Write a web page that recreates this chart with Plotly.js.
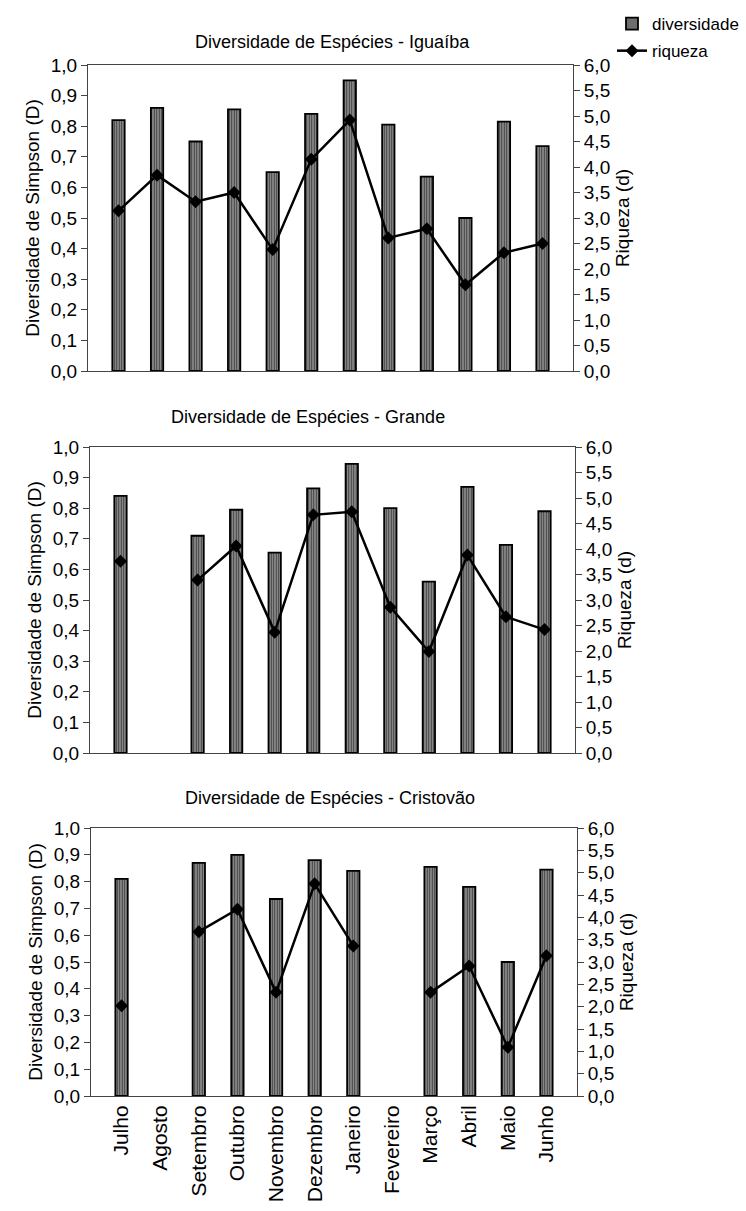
<!DOCTYPE html>
<html>
<head>
<meta charset="utf-8">
<script src="https://cdn.plot.ly/plotly-3.0.1.min.js"></script>
<style>html,body{margin:0;padding:0;background:#fff;}#chart{width:746px;height:1211px;}</style>
</head>
<body>
<div id="chart"></div>
<script>
const months = ['Julho','Agosto','Setembro','Outubro','Novembro','Dezembro','Janeiro','Fevereiro','Março','Abril','Maio','Junho'];
const divIguaiba = [0.82,0.86,0.75,0.855,0.65,0.84,0.95,0.805,0.635,0.50,0.815,0.735];
const riqIguaiba = [3.14,3.84,3.32,3.50,2.38,4.15,4.92,2.61,2.79,1.69,2.32,2.50];
const divGrande = [0.84,null,0.71,0.795,0.655,0.865,0.945,0.80,0.56,0.87,0.68,0.79];
const riqGrande = [3.76,null,3.39,4.06,2.37,4.67,4.73,2.86,1.99,3.88,2.67,2.42];
const divCristovao = [0.81,null,0.87,0.90,0.735,0.88,0.84,null,0.855,0.78,0.50,0.845];
const riqCristovao = [2.02,null,3.68,4.18,2.32,4.75,3.36,null,2.32,2.91,1.09,3.14];
const panelTitles = ['Diversidade de Espécies - Iguaíba','Diversidade de Espécies - Grande','Diversidade de Espécies - Cristovão'];
const leftTitle = 'Diversidade de Simpson (D)';
const rightTitle = 'Riqueza (d)';
const seriesNames = ['diversidade','riqueza'];

const W = 746, H = 1211;
const FONT = 'Liberation Sans, Arial, sans-serif';
const panels = [
  {div: divIguaiba, riq: riqIguaiba, px: [88,573], py: [65,371], tx: 332, ty: 42, showX: false},
  {div: divGrande, riq: riqGrande, px: [90,575], py: [447,753], tx: 308, ty: 417, showX: false},
  {div: divCristovao, riq: riqCristovao, px: [91,577], py: [828,1096], tx: 330, ty: 798, showX: true}
];

const data = [];
const layout = {
  width: W, height: H,
  margin: {l:0, r:0, t:0, b:0},
  paper_bgcolor: '#fff', plot_bgcolor: '#fff',
  separators: ',.',
  font: {family: FONT, color: '#000', size: 17},
  showlegend: true,
  legend: {x: 612/W, y: 1 - 6/H, xanchor: 'left', yanchor: 'top', font: {size: 17}, bgcolor: 'rgba(0,0,0,0)', tracegroupgap: 2, itemwidth: 30},
  bargap: 0.68,
  annotations: []
};

panels.forEach((p, i) => {
  const xa = i === 0 ? 'x' : 'x' + (i + 1);
  const yl = i === 0 ? 'y' : 'y' + (2 * i + 1);
  const yr = 'y' + (2 * i + 2);
  data.push({
    type: 'bar', x: months, y: p.div, xaxis: xa, yaxis: yl,
    name: seriesNames[0], showlegend: i === 0, legendgroup: 'd',
    marker: {color: '#8a8a8a', line: {color: '#000', width: 1.8},
      pattern: {shape: '|', size: 2.5, solidity: 0.45, fgcolor: '#3c3c3c', bgcolor: '#959595'}}
  });
  data.push({
    type: 'scatter', mode: 'lines+markers', x: months, y: p.riq, xaxis: xa, yaxis: yr,
    name: seriesNames[1], showlegend: i === 0, legendgroup: 'r', connectgaps: false,
    line: {color: '#000', width: 2.5}, marker: {symbol: 'diamond', size: 10, color: '#000'}
  });
  const xKey = i === 0 ? 'xaxis' : 'xaxis' + (i + 1);
  const ylKey = 'yaxis' + (i === 0 ? '' : (2 * i + 1));
  const yrKey = 'yaxis' + (2 * i + 2);
  const ydom = [1 - p.py[1] / H, 1 - p.py[0] / H];
  layout[xKey] = {
    domain: [p.px[0] / W, p.px[1] / W], anchor: yl, type: 'category',
    showline: true, linecolor: '#444', linewidth: 1, mirror: true,
    ticks: '', showgrid: false, zeroline: false, fixedrange: true,
    showticklabels: p.showX, tickangle: -90, tickfont: {size: 21}
  };
  layout[ylKey] = {
    domain: ydom, anchor: xa, range: [0, 1], dtick: 0.1, tickformat: '.1f',
    showline: true, linecolor: '#444', linewidth: 1, ticks: 'outside', ticklen: 6, tickcolor: '#444',
    showgrid: false, zeroline: false, tickfont: {size: 19},
    title: {text: leftTitle, font: {size: 19}, standoff: 6}
  };
  layout[yrKey] = {
    domain: ydom, anchor: xa, overlaying: yl, side: 'right', range: [0, 6], dtick: 0.5, tickformat: '.1f',
    showline: true, linecolor: '#444', linewidth: 1, ticks: 'outside', ticklen: 6, tickcolor: '#444',
    showgrid: false, zeroline: false, tickfont: {size: 19},
    title: {text: rightTitle, font: {size: 19}, standoff: 6}
  };
  layout.annotations.push({
    text: panelTitles[i], xref: 'paper', yref: 'paper', x: p.tx / W, y: 1 - p.ty / H,
    xanchor: 'center', yanchor: 'middle', showarrow: false, font: {size: 18}
  });
});

Plotly.newPlot('chart', data, layout, {displayModeBar: false, staticPlot: true});
</script>
</body>
</html>
